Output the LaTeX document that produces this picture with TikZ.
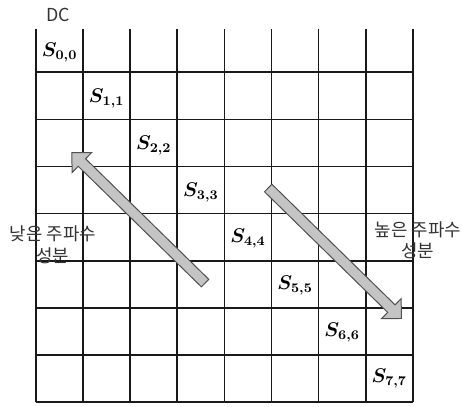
\documentclass[tikz,border=0pt]{standalone}
\usepackage{fontspec}
\usepackage{amsmath}
\newfontfamily\korfont{Noto Sans CJK KR}
\usetikzlibrary{positioning}
\definecolor{arrowgray}{HTML}{C4C4C4}
\definecolor{arrowedge}{HTML}{505050}

\begin{document}
\begin{tikzpicture}[x=1cm, y=0.99cm,
  gridline/.style={line width=1pt, black!90},
  coef/.style={font=\large, inner sep=0pt},
  band/.style={font=\korfont\fontsize{10.8}{13}\selectfont, align=center, text=black!80, inner sep=0pt},
  bigarrow/.pic={
    \draw[fill=arrowgray, draw=arrowedge, line width=0.6pt, line join=miter]
      (0,-0.113) -- (3.66,-0.113) -- (3.66,-0.30) -- (3.96,0)
      -- (3.66,0.30) -- (3.66,0.113) -- (0,0.113) -- cycle;
  }
]
  \useasboundingbox (-0.764,-0.086) rectangle (9.045,8.622);

  % 8x8 grid
  \draw[gridline] (0,0) grid (8,8);

  % diagonal coefficients
  \foreach \i in {0,...,7}
    \node[coef] (s\i) at (\i+0.5, 7.5-\i) {$\boldsymbol{S_{\i,\i}}$};

  \node[band] (dc) at (0.47,8.30) {DC};
  \node[band] (low) at (0.36,3.37) {낮은 주파수\\성분};
  \node[band] (high) at (8.11,3.47) {높은 주파수\\성분};

  % frequency arrows
  \coordinate (lowtail) at (3.59,2.55);
  \coordinate (hightail) at (4.93,4.59);
  \pic[rotate=135.6] at (lowtail) {bigarrow};
  \pic[rotate=-44.4] at (hightail) {bigarrow};
\end{tikzpicture}
\end{document}
